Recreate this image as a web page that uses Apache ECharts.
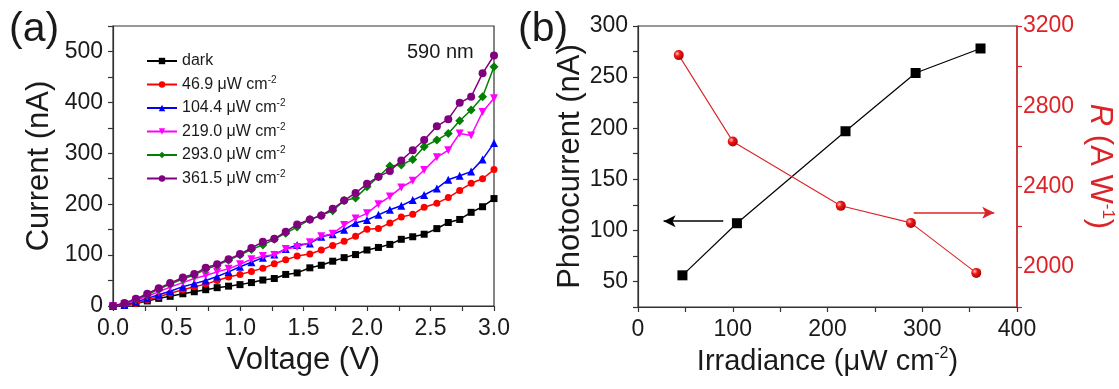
<!DOCTYPE html>
<html>
<head>
<meta charset="utf-8">
<script src="https://cdn.jsdelivr.net/npm/echarts@6/dist/echarts.min.js"></script>
<style>
  html, body { margin: 0; padding: 0; background: #fff; }
  #chart { width: 1119px; height: 389px; }
</style>
</head>
<body>
<div id="chart"></div>
<script>
// (a) I-V curves under 590 nm light
const voltage = [0.00, 0.09, 0.18, 0.27, 0.36, 0.45, 0.55, 0.64, 0.73, 0.82, 0.91, 1.00,
  1.09, 1.18, 1.27, 1.36, 1.45, 1.55, 1.64, 1.73, 1.82, 1.91, 2.00, 2.09, 2.18, 2.27,
  2.36, 2.45, 2.55, 2.64, 2.73, 2.82, 2.91, 3.00];
const darkI = [0, 1, 5, 10, 15, 19, 24, 28, 32, 36, 39, 42, 46, 51, 54, 62, 65, 75, 80, 88,
  95, 101, 110, 115, 121, 131, 136, 141, 152, 164, 170, 184, 195, 211];
const i469 = [0, 1, 5, 12, 18, 25, 32, 38, 43, 50, 57, 62, 68, 74, 83, 91, 98, 102, 110, 119,
  127, 137, 151, 152, 163, 175, 180, 194, 202, 213, 227, 241, 250, 268];
const i1044 = [0, 2, 8, 15, 22, 29, 38, 44, 50, 58, 67, 77, 86, 95, 101, 112, 120, 123, 136,
  141, 150, 163, 169, 179, 189, 197, 208, 218, 231, 248, 256, 264, 288, 320];
const i2190 = [0, 4, 11, 19, 28, 37, 46, 54, 60, 67, 73, 82, 92, 98, 100, 112, 116, 125, 137,
  142, 159, 172, 182, 200, 215, 233, 246, 267, 292, 306, 339, 335, 381, 408];
const i2930 = [0, 5, 13, 22, 33, 43, 53, 61, 72, 80, 90, 100, 111, 120, 131, 143, 155, 170,
  178, 187, 207, 212, 234, 254, 275, 277, 288, 313, 326, 339, 364, 385, 411, 470];
const i3615 = [0, 6, 14, 24, 35, 45, 56, 63, 75, 82, 92, 102, 114, 126, 132, 146, 160, 170,
  178, 191, 207, 222, 240, 254, 265, 286, 306, 326, 353, 367, 399, 411, 457, 492];
const legendNames = ['dark', '46.9 μW cm-2', '104.4 μW cm-2', '219.0 μW cm-2',
  '293.0 μW cm-2', '361.5 μW cm-2'];

// (b) photocurrent and responsivity vs irradiance
const irradiance = [46.9, 104.4, 219.0, 293.0, 361.5];
const photocurrent = [56, 107, 197, 254, 278];
const rIrradiance = [43, 100, 214, 288, 357];
const responsivity = [3055, 2625, 2304, 2219, 1970];
// arrows: [x0, x1, y]
const leftArrow = [90, 27, 109];
const rightArrow = [291, 376, 2269];

const FONT = '"Liberation Sans", Arial, sans-serif';
const TXT = '#1a1a1a';
const AX = '#333';
const RED = '#dc2428';

const zip = (xs, ys) => xs.map((x, i) => [x, ys[i]]);

const ivStyles = [
  { color: '#000000', symbol: 'rect', size: 7 },
  { color: '#ff0000', symbol: 'circle', size: 7 },
  { color: '#0000ff', symbol: 'triangle', size: 8 },
  { color: '#ff00ff', symbol: 'path://M0,0 L10,0 L5,10 Z', size: 8 },
  { color: '#008000', symbol: 'diamond', size: 9 },
  { color: '#800080', symbol: 'circle', size: 8 },
];
const ivData = [darkI, i469, i1044, i2190, i2930, i3615];

const sphere = {
  type: 'radial', x: 0.35, y: 0.35, r: 0.75,
  colorStops: [
    { offset: 0, color: '#ffc4c4' },
    { offset: 0.35, color: '#f01818' },
    { offset: 1, color: '#a00000' },
  ],
};

const tickLabel = { color: TXT, fontSize: 23, fontFamily: FONT, margin: 10 };
const axisBase = {
  axisLine: { show: true, lineStyle: { color: AX, width: 1.2 } },
  axisTick: { show: true, inside: false, length: 5, lineStyle: { color: AX, width: 1.2 } },
  splitLine: { show: false },
  nameTextStyle: { color: TXT, fontSize: 31, fontFamily: FONT },
};

const chart = echarts.init(document.getElementById('chart'));

const option = {
  animation: false,
  backgroundColor: '#fff',
  textStyle: { fontFamily: FONT },
  grid: [
    { left: 113, top: 26, width: 381, height: 280, show: true, borderColor: AX, borderWidth: 1.2 },
    { left: 638, top: 26, width: 379, height: 281, show: true, borderColor: AX, borderWidth: 1.2 },
  ],
  legend: {
    left: 141, top: 48, orient: 'vertical',
    itemWidth: 30, itemHeight: 8, itemGap: 6,
    data: legendNames,
    textStyle: {
      color: TXT, fontSize: 16, fontFamily: FONT,
      rich: { sup: { fontSize: 10, fontFamily: FONT, color: TXT, padding: [0, 0, 9, 0] } },
    },
    formatter: (n) => n.replace('-2', '{sup|-2}'),
  },
  xAxis: [
    Object.assign({}, axisBase, {
      gridIndex: 0, type: 'value', min: 0, max: 3, interval: 0.25,
      name: 'Voltage (V)', nameLocation: 'middle', nameGap: 36,
      axisLabel: Object.assign({}, tickLabel, {
        margin: 11,
        formatter: (v) => (Math.abs(v * 2 - Math.round(v * 2)) < 1e-6 ? v.toFixed(1) : ''),
      }),
    }),
    Object.assign({}, axisBase, {
      gridIndex: 1, type: 'value', min: 0, max: 400, interval: 50,
      name: 'Irradiance (μW cm{sup|-2})', nameLocation: 'middle', nameGap: 36,
      nameTextStyle: {
        color: TXT, fontSize: 29, fontFamily: FONT,
        rich: { sup: { fontSize: 16, fontFamily: FONT, color: TXT, padding: [0, 0, 16, 0] } },
      },
      axisLabel: Object.assign({}, tickLabel, {
        margin: 11,
        formatter: (v) => (v % 100 === 0 ? String(v) : ''),
      }),
    }),
  ],
  yAxis: [
    Object.assign({}, axisBase, {
      gridIndex: 0, type: 'value', min: 0, max: 550, interval: 50,
      name: 'Current (nA)', nameLocation: 'middle', nameGap: 58,
      axisLabel: Object.assign({}, tickLabel, {
        formatter: (v) => (v % 100 === 0 && v <= 500 ? String(v) : ''),
      }),
    }),
    Object.assign({}, axisBase, {
      gridIndex: 1, type: 'value', min: 25, max: 300, interval: 25,
      name: 'Photocurrent (nA)', nameLocation: 'middle', nameGap: 48,
      axisLabel: Object.assign({}, tickLabel, {
        formatter: (v) => (v % 50 === 0 ? String(v) : ''),
      }),
    }),
    Object.assign({}, axisBase, {
      gridIndex: 1, type: 'value', position: 'right', min: 1800, max: 3200, interval: 200,
      name: '{i|R} (A W{sup|-1})', nameLocation: 'middle', nameGap: 66, nameRotate: -90,
      axisLine: { show: true, lineStyle: { color: RED, width: 1.5 } },
      axisTick: { show: true, inside: false, length: 5, lineStyle: { color: RED, width: 1.2 } },
      nameTextStyle: {
        color: RED, fontSize: 31, fontFamily: FONT,
        rich: {
          i: { fontStyle: 'italic', fontSize: 31, fontFamily: FONT, color: RED },
          sup: { fontSize: 17, fontFamily: FONT, color: RED, padding: [0, 0, 16, 0] },
        },
      },
      axisLabel: Object.assign({}, tickLabel, {
        color: RED, margin: 6,
        formatter: (v) => (v % 400 === 0 ? String(v) : ''),
      }),
    }),
  ],
  series: ivData.map((d, k) => ({
    name: legendNames[k],
    type: 'line',
    xAxisIndex: 0, yAxisIndex: 0,
    data: zip(voltage, d),
    symbol: ivStyles[k].symbol,
    symbolSize: ivStyles[k].size,
    lineStyle: { color: ivStyles[k].color, width: 1.5 },
    itemStyle: { color: ivStyles[k].color },
    z: 2 + k,
  })).concat([
    {
      name: 'Photocurrent',
      type: 'line',
      xAxisIndex: 1, yAxisIndex: 1,
      data: zip(irradiance, photocurrent),
      symbol: 'rect', symbolSize: 10,
      lineStyle: { color: '#000', width: 1.2 },
      itemStyle: { color: '#000' },
      markLine: {
        silent: true, symbol: ['none', 'arrow'], symbolSize: [9, 12],
        label: { show: false },
        lineStyle: { color: '#000', width: 1.5, type: 'solid' },
        data: [[{ coord: [leftArrow[0], leftArrow[2]] }, { coord: [leftArrow[1], leftArrow[2]] }]],
      },
    },
    {
      name: 'R',
      type: 'line',
      xAxisIndex: 1, yAxisIndex: 2,
      data: zip(rIrradiance, responsivity),
      symbol: 'circle', symbolSize: 10,
      lineStyle: { color: RED, width: 1.1 },
      itemStyle: { color: sphere },
      markLine: {
        silent: true, symbol: ['none', 'arrow'], symbolSize: [9, 12],
        label: { show: false },
        lineStyle: { color: RED, width: 1.5, type: 'solid' },
        data: [[{ coord: [rightArrow[0], rightArrow[2]] }, { coord: [rightArrow[1], rightArrow[2]] }]],
      },
    },
  ]),
  graphic: [
    { type: 'text', left: 9, top: 9, style: { text: '(a)', fontSize: 41, fontFamily: FONT, fill: TXT } },
    { type: 'text', left: 518, top: 9, style: { text: '(b)', fontSize: 41, fontFamily: FONT, fill: TXT } },
    { type: 'text', left: 407, top: 42, style: { text: '590 nm', fontSize: 20, fontFamily: FONT, fill: TXT } },
  ],
};

chart.setOption(option);
</script>
</body>
</html>
